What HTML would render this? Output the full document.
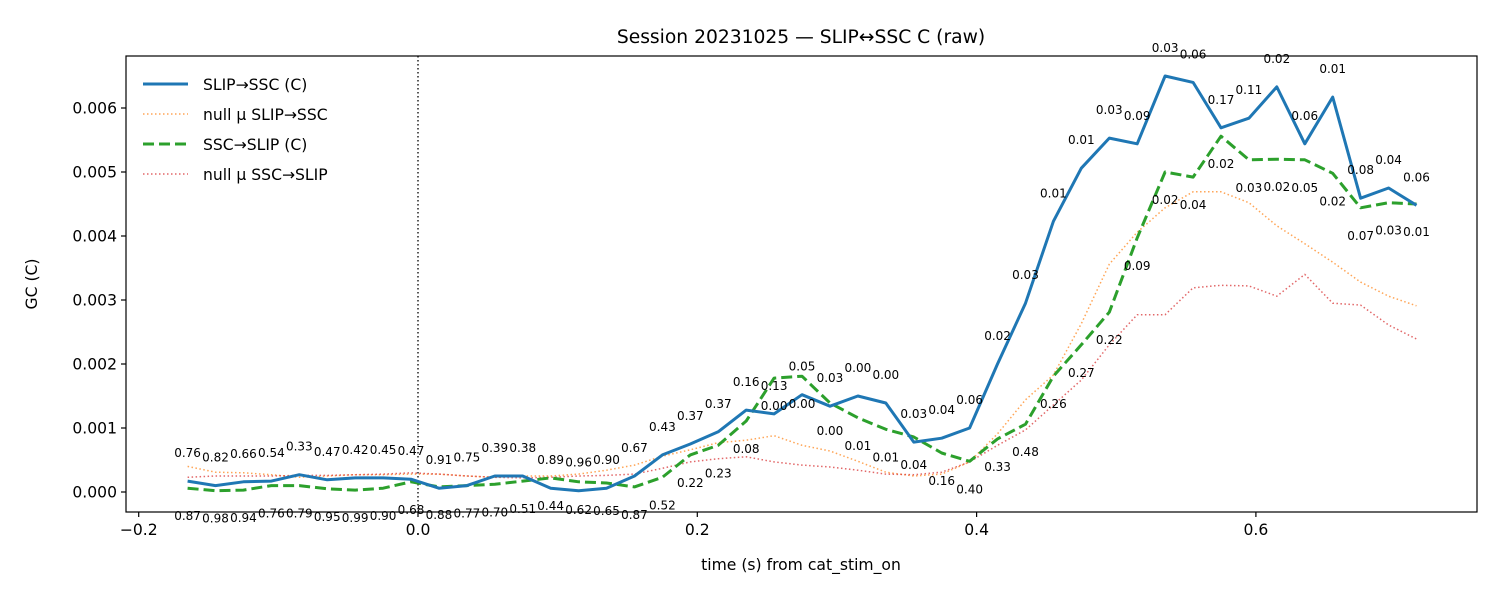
<!DOCTYPE html>
<html><head><meta charset="utf-8"><style>
html,body{margin:0;padding:0;background:#fff;}
svg{display:block;font-family:"DejaVu Sans","Liberation Sans",sans-serif;}
</style></head><body>
<svg id="chart" width="1500" height="600" viewBox="0 0 1500 600" xmlns="http://www.w3.org/2000/svg">
<rect x="0" y="0" width="1500" height="600" fill="#fff"/>
<text x="801" y="43" font-size="18.7" text-anchor="middle">Session 20231025 — SLIP↔SSC C (raw)</text>
<g id="plot"></g>
<text x="801" y="570" font-size="15.6" text-anchor="middle">time (s) from cat_stim_on</text>
<text transform="translate(37,284) rotate(-90)" font-size="15.6" text-anchor="middle">GC (C)</text>
<g>
<line x1="143" y1="84" x2="188" y2="84" stroke="#1f77b4" stroke-width="3"/>
<text x="203" y="90" font-size="15.6">SLIP→SSC (C)</text>
<line x1="143" y1="114" x2="188" y2="114" stroke="#ff7f0e" stroke-opacity="0.7" stroke-width="1.5" stroke-dasharray="1.5 2.5"/>
<text x="203" y="120" font-size="15.6">null µ SLIP→SSC</text>
<line x1="143" y1="144" x2="188" y2="144" stroke="#2ca02c" stroke-width="3" stroke-dasharray="11 5"/>
<text x="203" y="150" font-size="15.6">SSC→SLIP (C)</text>
<line x1="143" y1="174" x2="188" y2="174" stroke="#d62728" stroke-opacity="0.7" stroke-width="1.5" stroke-dasharray="1.5 2.5"/>
<text x="203" y="180" font-size="15.6">null µ SSC→SLIP</text>
</g>
</svg>
<script>
const t0 = -0.165, dt = 0.02;
const blue = [0.00017,0.0001,0.00016,0.00017,0.00027,0.00019,0.00022,0.00022,0.0002,0.00006,0.0001,0.00025,0.00025,0.00006,0.00002,0.00006,0.00025,0.00058,0.00075,0.00094,0.00128,0.00122,0.00152,0.00134,0.0015,0.00139,0.00078,0.00084,0.001,0.002,0.00295,0.00423,0.00506,0.00553,0.00544,0.0065,0.0064,0.00569,0.00584,0.00633,0.00544,0.00617,0.00459,0.00475,0.00448];
const green = [0.00006,0.00002,0.00003,0.0001,0.0001,0.00005,0.00003,0.00006,0.00016,0.00008,0.0001,0.00012,0.00017,0.00022,0.00016,0.00014,0.00008,0.00023,0.00058,0.00073,0.00111,0.00178,0.00181,0.00139,0.00116,0.00098,0.00086,0.00061,0.00048,0.00083,0.00106,0.00181,0.0023,0.00281,0.00397,0.005,0.00492,0.00556,0.00519,0.0052,0.00519,0.00498,0.00444,0.00452,0.0045];
const nullBlue = [0.0004,0.00031,0.0003,0.00027,0.00023,0.00025,0.00027,0.00027,0.00028,0.00028,0.00025,0.00023,0.00025,0.00025,0.00028,0.00034,0.00042,0.00056,0.00066,0.00077,0.00081,0.00088,0.00073,0.00064,0.00048,0.00031,0.00025,0.00028,0.00047,0.00091,0.00144,0.00183,0.00263,0.00356,0.00406,0.00444,0.00469,0.00469,0.00452,0.00416,0.00388,0.00359,0.00328,0.00306,0.00291];
const nullGreen = [0.00023,0.00025,0.00025,0.00025,0.00026,0.00026,0.00027,0.00028,0.0003,0.00028,0.00025,0.00023,0.00022,0.00023,0.00025,0.00026,0.00028,0.00037,0.00047,0.00052,0.00055,0.00047,0.00042,0.00039,0.00034,0.00028,0.00027,0.00031,0.00047,0.00073,0.00097,0.00136,0.00175,0.0023,0.00277,0.00277,0.00319,0.00323,0.00322,0.00306,0.0034,0.00295,0.00292,0.00261,0.00239];
const pBlue = ["0.76","0.82","0.66","0.54","0.33","0.47","0.42","0.45","0.47","0.91","0.75","0.39","0.38","0.89","0.96","0.90","0.67","0.43","0.37","0.37","0.16","0.13","0.05","0.03","0.00","0.00","0.03","0.04","0.06","0.02","0.03","0.01","0.01","0.03","0.09","0.03","0.06","0.17","0.11","0.02","0.06","0.01","0.08","0.04","0.06"];
const pGreen = ["0.87","0.98","0.94","0.76","0.79","0.95","0.99","0.90","0.68","0.88","0.77","0.70","0.51","0.44","0.62","0.65","0.87","0.52","0.22","0.23","0.08","0.00","0.00","0.00","0.01","0.01","0.04","0.16","0.40","0.33","0.48","0.26","0.27","0.22","0.09","0.02","0.04","0.02","0.03","0.02","0.05","0.02","0.07","0.03","0.01"];
const xTicks = [-0.2,0.0,0.2,0.4,0.6];
const xTickLabels = ["−0.2","0.0","0.2","0.4","0.6"];
const yTicks = [0,0.001,0.002,0.003,0.004,0.005,0.006];
const yTickLabels = ["0.000","0.001","0.002","0.003","0.004","0.005","0.006"];

const L=126,R=1477,T=56,B=512;
const xs = v => 418 + v*1396.5;
const ys = v => 492 - v*64000;
const NS="http://www.w3.org/2000/svg";
const g=document.getElementById('plot');
function mk(tag,attrs,parent){const e=document.createElementNS(NS,tag);for(const k in attrs)e.setAttribute(k,attrs[k]);(parent||g).appendChild(e);return e;}
const times = blue.map((_,i)=>t0+dt*i);
function line(arr,stroke,w,dash,op,name){
  const d=arr.map((v,i)=>(i?'L':'M')+xs(times[i]).toFixed(1)+','+ys(v).toFixed(1)).join('');
  const p=mk('path',{d:d,fill:'none',stroke:stroke,'stroke-width':w,'stroke-opacity':op,'stroke-dasharray':dash,'stroke-linejoin':'round'});
  
  
}
const vl=mk('line',{x1:xs(0),x2:xs(0),y1:T,y2:B,stroke:'#000','stroke-width':1.3,'stroke-dasharray':'1.5 2.5'});


line(nullBlue,'#ff7f0e',1.5,'1.5 2.5',0.7,'null-slip-ssc-line');
line(nullGreen,'#d62728',1.5,'1.5 2.5',0.7,'null-ssc-slip-line');
line(green,'#2ca02c',3,'11 5',1,'ssc-slip-line');
line(blue,'#1f77b4',3,'none',1,'slip-ssc-line');
blue.forEach((v,i)=>{const t=mk('text',{x:xs(times[i]),y:ys(v)-24,'font-size':12,'text-anchor':'middle'});t.textContent=pBlue[i];

});
green.forEach((v,i)=>{const t=mk('text',{x:xs(times[i]),y:ys(v)+32,'font-size':12,'text-anchor':'middle'});t.textContent=pGreen[i];

});
const fr=mk('rect',{x:L,y:T,width:R-L,height:B-T,fill:'none',stroke:'#000','stroke-width':1.2});


xTicks.forEach((v,i)=>{const x=xs(v);mk('line',{x1:x,x2:x,y1:B,y2:B+5,stroke:'#000','stroke-width':1.2});
const t=mk('text',{x:x,y:B+23,'font-size':15.6,'text-anchor':'middle'});t.textContent=xTickLabels[i];

});
yTicks.forEach((v,i)=>{const y=ys(v);mk('line',{x1:L-5,x2:L,y1:y,y2:y,stroke:'#000','stroke-width':1.2});
const t=mk('text',{x:L-9,y:y+5.5,'font-size':15.6,'text-anchor':'end'});t.textContent=yTickLabels[i];

});
</script>
</body></html>
